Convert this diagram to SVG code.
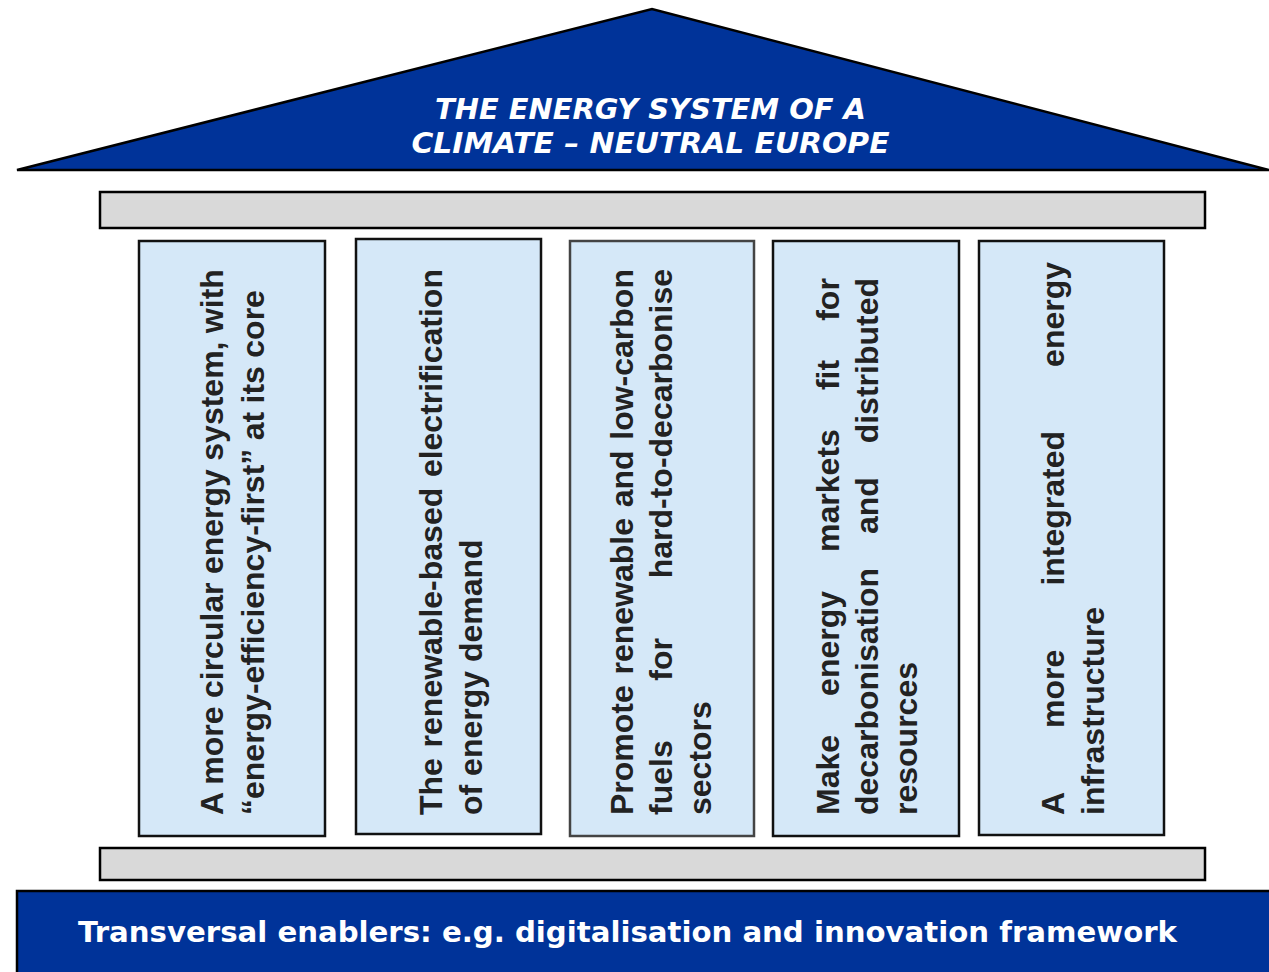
<svg xmlns="http://www.w3.org/2000/svg" width="1269" height="972" viewBox="0 0 1269 972">
<style>
.blue{fill:#003399;stroke:#000;stroke-width:2.5}
.beam{fill:#d9d9d9;stroke:#000;stroke-width:2.5}
.pillar{fill:#d5e8f8;stroke:#111;stroke-width:2.5}
.head{font-family:"DejaVu Sans",Verdana,sans-serif;font-weight:bold;font-style:italic;font-size:29px;fill:#fff}
.foot{font-family:"DejaVu Sans",Verdana,sans-serif;font-weight:bold;font-size:29px;fill:#fff}
.pt{font-family:"Liberation Sans",Arial,sans-serif;font-weight:bold;font-size:32px;fill:#222}
</style>
<rect width="1269" height="972" fill="#fff"/>
<g id="roof">
<polygon class="blue" points="17,170 652,9 1269,170"/>
<text class="head" text-anchor="middle" x="650.5" y="119" textLength="431" lengthAdjust="spacingAndGlyphs">THE ENERGY SYSTEM OF A</text>
<text class="head" text-anchor="middle" x="650.5" y="153" textLength="478" lengthAdjust="spacingAndGlyphs">CLIMATE – NEUTRAL EUROPE</text>
</g>
<g id="beam-top"><rect class="beam" x="100" y="192" width="1105" height="36"/></g>
<g id="pillar1">
<rect class="pillar" x="139" y="241" width="186" height="595"/>
<text class="pt" transform="translate(0,815) rotate(-90)" word-spacing="-0.5"><tspan x="0" y="223">A more circular energy system, with</tspan><tspan x="0" y="264">“energy-efficiency-first” at its core</tspan></text>
</g>
<g id="pillar2">
<rect class="pillar" x="356" y="239" width="185" height="595"/>
<text class="pt" transform="translate(0,815) rotate(-90)"><tspan x="0" y="442">The</tspan><tspan x="67.6" y="442">renewable-based</tspan><tspan x="337.9" y="442">electrification</tspan><tspan x="0" y="482">of energy demand</tspan></text>
</g>
<g id="pillar3">
<rect class="pillar" x="570" y="241" width="184" height="595" style="stroke:#444"/>
<text class="pt" transform="translate(0,815) rotate(-90)"><tspan x="0" y="633">Promote</tspan><tspan x="140.5" y="633">renewable</tspan><tspan x="307.7" y="633">and</tspan><tspan x="375.3" y="633">low-carbon</tspan><tspan x="0" y="672">fuels</tspan><tspan x="134.3" y="672">for</tspan><tspan x="236.7" y="672">hard-to-decarbonise</tspan><tspan x="0" y="711">sectors</tspan></text>
</g>
<g id="pillar4">
<rect class="pillar" x="773" y="241" width="186" height="595"/>
<text class="pt" transform="translate(0,815) rotate(-90)"><tspan x="0" y="839">Make</tspan><tspan x="119.1" y="839">energy</tspan><tspan x="263.1" y="839">markets</tspan><tspan x="424.9" y="839">fit</tspan><tspan x="494.2" y="839">for</tspan><tspan x="0" y="878">decarbonisation</tspan><tspan x="281" y="878">and</tspan><tspan x="371.7" y="878">distributed</tspan><tspan x="0" y="917">resources</tspan></text>
</g>
<g id="pillar5">
<rect class="pillar" x="979" y="241" width="185" height="594"/>
<text class="pt" transform="translate(0,815) rotate(-90)"><tspan x="0" y="1064">A</tspan><tspan x="87.1" y="1064">more</tspan><tspan x="229.4" y="1064">integrated</tspan><tspan x="448.1" y="1064">energy</tspan><tspan x="0" y="1104">infrastructure</tspan></text>
</g>
<g id="beam-bottom"><rect class="beam" x="100" y="848" width="1105" height="32"/></g>
<g id="base">
<rect class="blue" x="17" y="891" width="1260" height="90"/>
<text class="foot" x="78" y="942" textLength="1099" lengthAdjust="spacingAndGlyphs">Transversal enablers: e.g. digitalisation and innovation framework</text>
</g>
</svg>
